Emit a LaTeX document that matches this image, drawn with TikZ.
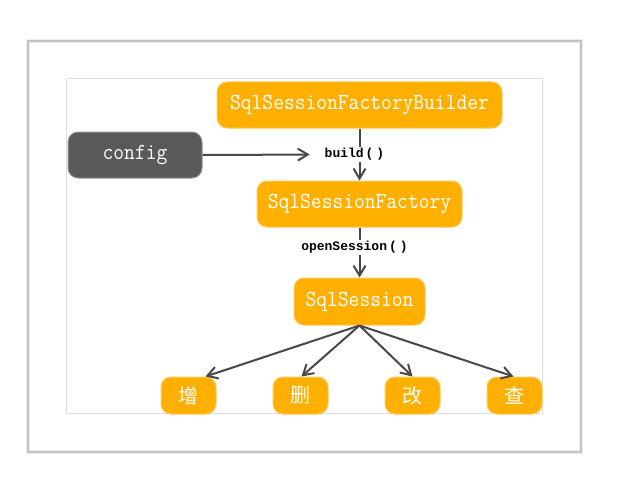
\documentclass[tikz,border=0pt]{standalone}
\usepackage{fontspec}
\usetikzlibrary{arrows.meta,calc}
\newfontfamily\boxfont[FakeStretch=0.91]{Latin Modern Mono}
\newfontfamily\lblfont{Liberation Mono}
\newfontfamily\cjkfont{Noto Sans CJK SC}
\definecolor{orng}{RGB}{255,175,0}
\definecolor{orngedge}{RGB}{255,200,90}
\definecolor{cfgfill}{RGB}{91,88,88}
\definecolor{cfgedge}{RGB}{150,148,148}
\definecolor{linecol}{RGB}{72,72,72}
\definecolor{frameout}{RGB}{236,236,236}
\definecolor{framein}{RGB}{195,195,195}
\definecolor{innerframe}{RGB}{222,222,222}
\begin{document}
\begin{tikzpicture}[x=1pt,y=-1pt,
  obox/.style={rounded corners=10pt, fill=orng, draw=orngedge, line width=1pt,
    text=white, inner sep=0pt, minimum height=46pt,
    font=\boxfont\fontsize{23}{26}\selectfont},
  cbox/.style={obox, fill=cfgfill, draw=cfgedge},
  zbox/.style={obox, minimum width=55pt, minimum height=37pt,
    font=\cjkfont\fontsize{20}{22}\selectfont},
  lbl/.style={fill=white, inner xsep=2pt, inner ysep=1pt, text=black,
    font=\lblfont\bfseries\fontsize{13}{14}\selectfont},
  conn/.style={draw=linecol, line width=2pt,
    -{Straight Barb[length=10pt,width=12pt,line width=2pt]}}]
\useasboundingbox (0,0) rectangle (623,476);
\fill[white] (0,0) rectangle (623,476);
% frames
\draw[frameout, line width=3.5pt] (28,41) rectangle (581,452);
\draw[framein, line width=1.2pt] (28,41) rectangle (581,452);
\draw[innerframe, line width=1pt] (66,79) rectangle (542,413);
% nodes
\node[obox, minimum width=285pt] (ssfb) at (359.5,105) {SqlSessionFactoryBuilder};
\node[obox, minimum width=205pt] (ssf) at (359.5,204) {SqlSessionFactory};
\node[cbox, minimum width=134pt] (cfg) at (135,155) {config};
\node[obox, minimum width=131pt, minimum height=47pt] (ss) at (359.5,301.5) {SqlSession};
\node[zbox] (zeng) at (188.5,395.5) {增};
\node[zbox] (shan) at (300.5,395.5) {删};
\node[zbox] (gai) at (412.5,395.5) {改};
\node[zbox] (cha) at (514.5,395.5) {查};
% connectors
\draw[conn] (ssfb.south) -- node[lbl, pos=0.5, xshift=-5pt] (b) {build\kern2pt(\kern3pt)} (ssf.north);
\draw[conn, shorten >=12pt] (cfg.east) -- (b.west);
\draw[conn] (ssf.south) -- node[lbl, pos=0.4, xshift=-5pt] (o) {openSession\kern2pt(\kern3pt)} (ss.north);
\draw[conn] (ss.south) -- ([xshift=-11pt]zeng.north east);
\draw[conn] (ss.south) -- ([xshift=1pt]shan.north);
\draw[conn] (ss.south) -- (gai.north);
\draw[conn] (ss.south) -- ([xshift=-1pt]cha.north);
\end{tikzpicture}
\end{document}
